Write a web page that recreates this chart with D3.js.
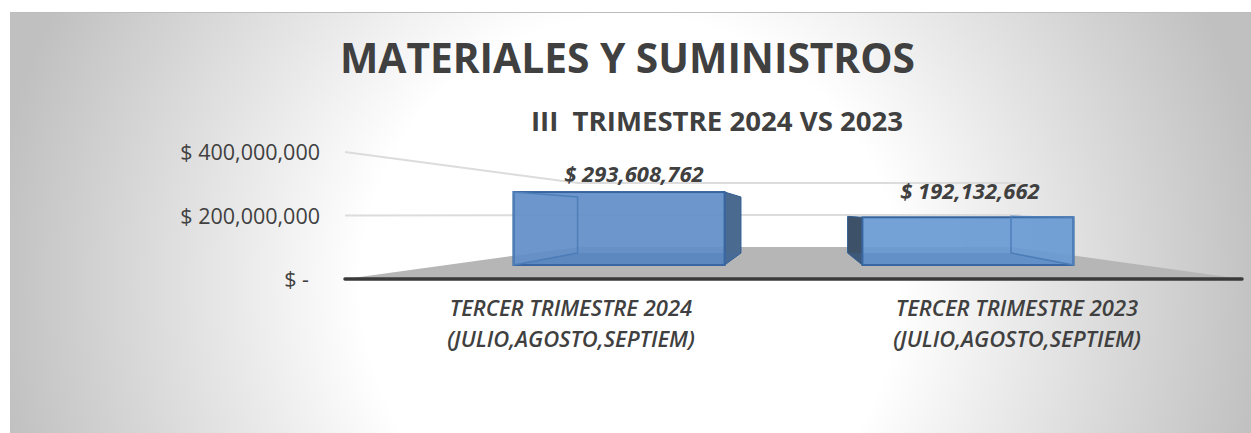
<!DOCTYPE html>
<html><head><meta charset="utf-8">
<script src="https://cdnjs.cloudflare.com/ajax/libs/d3/7.8.5/d3.min.js"></script>
<style>html,body{margin:0;padding:0;background:#fff}svg{display:block;font-family:"Open Sans",sans-serif}</style>
</head><body>
<svg id="c" width="1251" height="433"></svg>
<script>
const titleText = "MATERIALES Y SUMINISTROS";
const subtitleText = "III  TRIMESTRE 2024 VS 2023";
const categories = [["TERCER TRIMESTRE 2024","(JULIO,AGOSTO,SEPTIEM)"],["TERCER TRIMESTRE 2023","(JULIO,AGOSTO,SEPTIEM)"]];
const values = [293608762, 192132662];
const valueLabels = ["$ 293,608,762", "$ 192,132,662"];
const ticks = [0, 200000000, 400000000];
const tickLabels = ["$ -", "$ 200,000,000", "$ 400,000,000"];

const svg = d3.select("#c");
const defs = svg.append("defs");
const g = defs.append("radialGradient").attr("id","bg").attr("gradientUnits","userSpaceOnUse")
  .attr("cx",630).attr("cy",285).attr("r",640);
[[0,"#ffffff"],[0.42,"#ffffff"],[0.6,"#ebebeb"],[1,"#c0c0c0"]].forEach(s=>g.append("stop").attr("offset",s[0]).attr("stop-color",s[1]));
svg.append("rect").attr("x",10).attr("y",12).attr("width",1241).attr("height",421).attr("fill","url(#bg)");
svg.append("line").attr("x1",10).attr("x2",1251).attr("y1",12.5).attr("y2",12.5).attr("stroke","#bdbdbd");

// depth planes: value scales for the side wall, back wall, bar front and bar back
const yWall = d3.scaleLinear().domain([0,400000000]).range([279,152]);
const yBack = d3.scaleLinear().domain([0,400000000]).range([247,183]);
const yFront = d3.scaleLinear().domain([0,400000000]).range([265,165.6]);
const yRear = d3.scaleLinear().domain([0,400000000]).range([253,176.7]);

// horizontal planes
const xFront = d3.scaleBand().domain([0,1]).range([345,1242]).paddingInner(0.395).paddingOuter(0.483);
const vanish = 797;
const rearX = d3.scaleLinear().domain([vanish,vanish+100]).range([vanish,vanish+77.4]);
const wallX = d3.scaleLinear().domain([vanish,vanish+100]).range([vanish,vanish+48.45]);
const xL = 345, xR = 1242;

// floor
svg.append("path").attr("fill","#b6b6b6")
 .attr("d",d3.line()([[xL,yWall(0)],[wallX(xL),yBack(0)],[wallX(xR),yBack(0)],[xR,yWall(0)]])+"Z");

// gridlines
ticks.filter(t=>t>0).forEach(t=>{
  svg.append("path").attr("fill","none").attr("stroke","#dcdcdc").attr("stroke-width",2)
   .attr("d",d3.line()([[xL,yWall(t)],[wallX(xL),yBack(t)],[wallX(xR)+8,yBack(t)]]));
});

// bars
values.forEach((v,i)=>{
  const x0=xFront(i), x1=x0+xFront.bandwidth();
  const fT=yFront(v), fB=yFront(0), rT=yRear(v), rB=yRear(0);
  const a=rearX(x0), b=rearX(x1);
  const bar=svg.append("g");
  // side faces
  const dark = i===0
    ? {pts:[[x1,fT],[b,rT],[b,rB],[x1,fB]],fill:"#4a6a8f"}
    : {pts:[[x0,fT],[a,rT],[a,rB],[x0,fB]],fill:"#3d5168"};
  const inner = i===0
    ? [[x0,fT],[a,rT],[a,rB],[x0,fB]]
    : [[x1,fT],[b,rT],[b,rB],[x1,fB]];
  bar.append("path").attr("fill",dark.fill).attr("stroke","#2f5c92").attr("stroke-width",1).attr("d",d3.line()(dark.pts)+"Z");
  // front face
  bar.append("rect").attr("x",x0).attr("y",fT).attr("width",x1-x0).attr("height",fB-fT)
    .attr("fill",i===0?"#5f8dc8":"#6899d2").attr("fill-opacity",.92).attr("stroke","#36659f").attr("stroke-width",2);
  // inner edges seen through the translucent face
  bar.append("path").attr("fill","none").attr("stroke","#4e7fb9").attr("stroke-width",1.5)
    .attr("d",d3.line()(inner)+"Z");
  bar.append("path").attr("fill","#3f70ab").attr("fill-opacity",.25)
    .attr("d",d3.line()([[x0,fB],[a,rB],[b,rB],[x1,fB]])+"Z");
  // value
  svg.append("text").attr("x",[634,970][i]).attr("y",[182,199][i]).attr("text-anchor","middle")
    .attr("font-size",22).attr("font-weight",700).attr("font-style","italic").attr("fill","#404040").text(valueLabels[i]);
  // category
  categories[i].forEach((s,j)=>{
    svg.append("text").attr("x",[571,1017][i]).attr("y",316+j*31).attr("text-anchor","middle")
      .attr("font-size",22).attr("font-weight",600).attr("font-style","italic").attr("fill","#404040").text(s);
  });
});

// axis baseline
svg.append("line").attr("x1",xL).attr("x2",xR).attr("y1",yWall(0)).attr("y2",yWall(0)).attr("stroke","#3a3a3a").attr("stroke-width",3.5).attr("stroke-linecap","round");

// axis labels
ticks.forEach((t,i)=>{
  svg.append("text").attr("x",i===0?309:320).attr("y",yWall(t)+8).attr("text-anchor","end")
    .attr("font-size",21.5).attr("fill","#404040").text(tickLabels[i]);
});

svg.append("text").attr("x",627.5).attr("y",73).attr("text-anchor","middle").attr("font-size",40.7).attr("font-weight",700).attr("fill","#404040").text(titleText);
svg.append("text").attr("x",717).attr("y",131).attr("text-anchor","middle").attr("font-size",27.6).attr("font-weight",700).attr("fill","#404040").style("white-space","pre").text(subtitleText);
</script>
</body></html>
